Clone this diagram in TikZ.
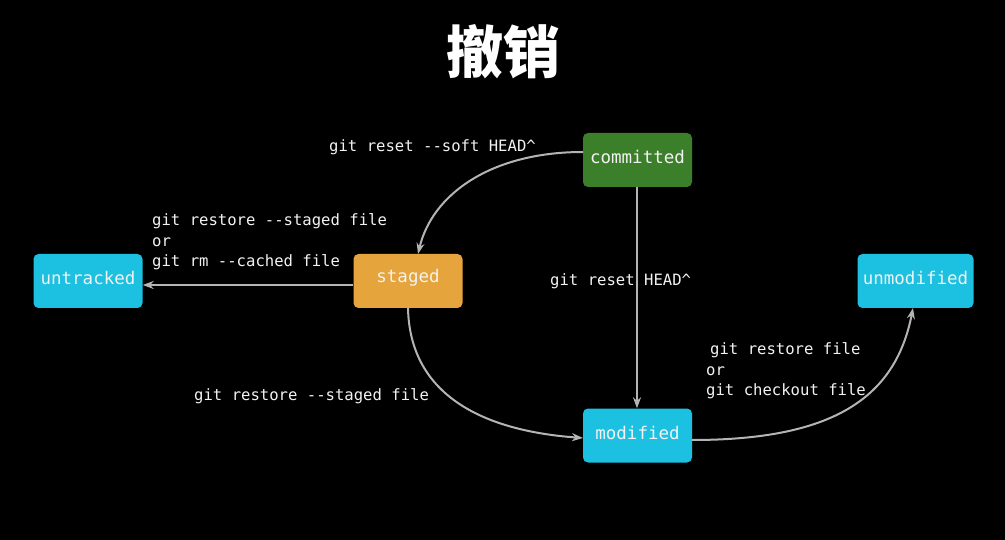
\documentclass[tikz,border=0pt]{standalone}
\usepackage{fontspec}
\setmonofont{DejaVu Sans Mono}
\newfontfamily\cjk{Noto Sans CJK SC}
\usetikzlibrary{arrows.meta}
\definecolor{cgreen}{HTML}{3C7F2A}
\definecolor{ccyan}{HTML}{1CC0E0}
\definecolor{corange}{HTML}{E6A53C}
\definecolor{ctext}{HTML}{F2F2F2}
\definecolor{carrow}{HTML}{B4B4B4}
\tikzset{
  box/.style={rounded corners=5pt, minimum width=109pt, minimum height=54pt, inner sep=0pt,
    text=ctext, font=\ttfamily\fontsize{17.5}{20}\selectfont},
  boxtext/.style={inner sep=0pt, text=ctext, font=\ttfamily\fontsize{17.5}{20}\selectfont},
  lbl/.style={anchor=west, inner sep=0pt, text=ctext, align=left,
    font=\ttfamily\fontsize{15.6}{20.5}\selectfont},
  conn/.style={draw=carrow, line width=2pt, -{Stealth[length=11pt,width=8pt]}}
}
\begin{document}
\begin{tikzpicture}[x=1pt,y=-1pt]
\fill[black] (0,0) rectangle (1005,540);
\useasboundingbox (0,0) rectangle (1005,540);
\node[text=white, font=\cjk\bfseries\fontsize{57}{60}\selectfont] (title) at (503,52) {撤销};
\node[box, fill=cgreen] (committed) at (637.5,160) {};
\node[boxtext] (tcommitted) at (637.5,157) {committed};
\node[box, fill=ccyan] (untracked) at (88,281) {};
\node[boxtext] (tuntracked) at (88,278) {untracked};
\node[box, fill=corange] (staged) at (408,281) {};
\node[boxtext] (tstaged) at (408,278) {staged};
\node[box, fill=ccyan, minimum width=116pt] (unmodified) at (915.5,281) {};
\node[boxtext] (tunmodified) at (915.5,278) {unmodified};
\node[box, fill=ccyan] (modified) at (637.5,435.5) {};
\node[boxtext] (tmodified) at (637.5,432.5) {modified};
\coordinate (c1) at (583,152);
\coordinate (s1) at (418,254);
\draw[conn] (c1) .. controls (490,152) and (432,195) .. (s1);
\coordinate (s2) at (353,285);
\draw[conn] (s2) -- (untracked.east |- s2);
\coordinate (s3) at (408,308);
\coordinate (m1) at (583,438);
\draw[conn] (s3) .. controls (410,405) and (500,432) .. (m1);
\coordinate (c2) at (637,187);
\draw[conn] (c2) -- (modified.north -| c2);
\coordinate (m2) at (692,440);
\coordinate (u1) at (913,308);
\draw[conn] (m2) .. controls (830,440) and (895,400) .. (u1);
\node[lbl] (l1) at (329,147) {git reset --soft HEAD\^{}};
\node[lbl] (l2) at (152,242) {git restore --staged file\\or\\git rm --cached file};
\node[lbl] (l3) at (550,281) {git reset HEAD\^{}};
\node[lbl] (l4) at (194,396) {git restore --staged file};
\node[lbl] (l5) at (706,371) {\hspace{4pt}git restore file\\or\\git checkout file};
\end{tikzpicture}
\end{document}
